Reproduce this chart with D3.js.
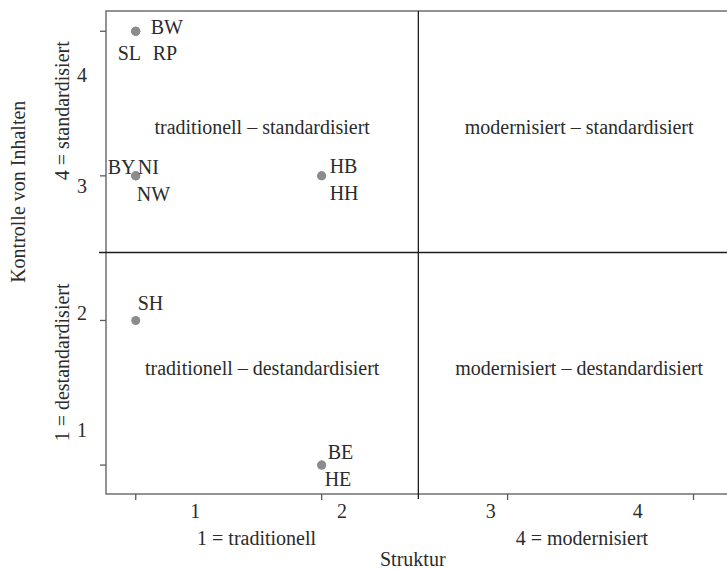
<!doctype html>
<html>
<head>
<meta charset="utf-8">
<title>Struktur / Kontrolle von Inhalten</title>
<script src="https://d3js.org/d3.v7.min.js"></script>
<style>
    body { margin: 0; background: #fff; }
    svg text { font-family: "Liberation Serif", "DejaVu Serif", serif; fill: #2b2b2b; }
</style>
</head>
<body>
<div id="chart"></div>
<script>
// data
var states    = ["BW", "SL", "RP", "BY", "NI", "NW", "HB", "HH", "SH", "BE", "HE"];
var struktur  = [1, 1, 1, 1, 1, 1, 2, 2, 1, 2, 2];
var kontrolle = [4, 4, 4, 3, 3, 3, 3, 3, 2, 1, 1];

var xDomain = [0.84, 4.25];
var yDomain = [0.80, 4.14];
var xTicks = [1, 2, 3, 4];
var yTicks = [1, 2, 3, 4];
var xDivider = 2.52;
var yDivider = 2.47;

// tick labels sit off the tick marks in the original
var xTickLabels = ["1", "2", "3", "4"];
var xTickLabelAt = [1.32, 2.11, 2.91, 3.70];
var yTickLabels = ["1", "2", "3", "4"];
var yTickLabelAt = [1.24, 2.05, 2.93, 3.70];

var xEndLabels = ["1 = traditionell", "4 = modernisiert"];
var xEndLabelAt = [1.65, 3.40];
var yEndLabels = ["1 = destandardisiert", "4 = standardisiert"];
var yEndLabelAt = [1.71, 3.45];

var quadrantLabels = [
    "traditionell \u2013 standardisiert", "modernisiert \u2013 standardisiert",
    "traditionell \u2013 destandardisiert", "modernisiert \u2013 destandardisiert"
];

// label placement around each point (pixels)
var labelOffset = {
    BW: [15, -4], SL: [-18, 22], RP: [17, 22],
    BY: [-28, -9], NI: [2, -9], NW: [1, 18],
    HB: [8, -10], HH: [8, 17],
    SH: [2, -17],
    BE: [6, -13], HE: [3, 14]
};

var width = 727, height = 569;
var plotLeft = 106, plotRight = 740, plotTop = 11, plotBottom = 494;
var fs = 20;

var svg = d3.select("#chart").append("svg")
    .attr("width", width).attr("height", height);

var x = d3.scaleLinear().domain(xDomain).range([plotLeft, plotRight]);
var y = d3.scaleLinear().domain(yDomain).range([plotBottom, plotTop]);

var frame = "#5a5a5a";

// frame
svg.append("rect")
    .attr("x", plotLeft).attr("y", plotTop)
    .attr("width", plotRight - plotLeft).attr("height", plotBottom - plotTop)
    .style("fill", "none").style("stroke", frame).style("stroke-width", 1.3);

// ticks
svg.selectAll(".xtick").data(xTicks).enter().append("line")
    .attr("x1", function (d) { return x(d); }).attr("x2", function (d) { return x(d); })
    .attr("y1", plotBottom).attr("y2", plotBottom + 6)
    .style("stroke", frame).style("stroke-width", 1.3);
svg.selectAll(".ytick").data(yTicks).enter().append("line")
    .attr("y1", function (d) { return y(d); }).attr("y2", function (d) { return y(d); })
    .attr("x1", plotLeft).attr("x2", plotLeft - 6)
    .style("stroke", frame).style("stroke-width", 1.3);

// quadrant dividers
svg.append("line")
    .attr("x1", x(xDivider)).attr("x2", x(xDivider))
    .attr("y1", plotTop).attr("y2", plotBottom + 5)
    .style("stroke", "#1e1e1e").style("stroke-width", 1.3);
svg.append("line")
    .attr("x1", plotLeft - 7).attr("x2", plotRight)
    .attr("y1", y(yDivider)).attr("y2", y(yDivider))
    .style("stroke", "#1e1e1e").style("stroke-width", 1.3);

// tick labels
svg.selectAll(".xlab").data(xTickLabels).enter().append("text")
    .attr("x", function (d, i) { return x(xTickLabelAt[i]); })
    .attr("y", 518)
    .attr("text-anchor", "middle").style("font-size", fs + "px")
    .text(function (d) { return d; });
svg.selectAll(".ylab").data(yTickLabels).enter().append("text")
    .attr("x", 82)
    .attr("y", function (d, i) { return y(yTickLabelAt[i]); })
    .attr("dominant-baseline", "central")
    .attr("text-anchor", "middle").style("font-size", fs + "px")
    .text(function (d) { return d; });

// end labels
svg.selectAll(".xend").data(xEndLabels).enter().append("text")
    .attr("x", function (d, i) { return x(xEndLabelAt[i]); })
    .attr("y", 545)
    .attr("text-anchor", "middle").style("font-size", fs + "px")
    .text(function (d) { return d; });
svg.selectAll(".yend").data(yEndLabels).enter().append("text")
    .attr("transform", function (d, i) { return "translate(62," + y(yEndLabelAt[i]) + ") rotate(-90)"; })
    .attr("text-anchor", "middle").attr("dominant-baseline", "central")
    .style("font-size", fs + "px")
    .text(function (d) { return d; });

// axis titles
svg.append("text")
    .attr("x", x(2.49)).attr("y", 566)
    .attr("text-anchor", "middle").style("font-size", fs + "px")
    .text("Struktur");
svg.append("text")
    .attr("transform", "translate(18," + y(2.89) + ") rotate(-90)")
    .attr("text-anchor", "middle").attr("dominant-baseline", "central")
    .style("font-size", fs + "px")
    .text("Kontrolle von Inhalten");

// quadrant labels
var qx = [(xDomain[0] + xDivider) / 2, (xDivider + xDomain[1]) / 2];
var qy = [(yDivider + yDomain[1]) / 2, (yDomain[0] + yDivider) / 2];
svg.selectAll(".quad").data(quadrantLabels).enter().append("text")
    .attr("x", function (d, i) { return x(qx[i % 2]); })
    .attr("y", function (d, i) { return y(qy[Math.floor(i / 2)]) - 5; })
    .attr("text-anchor", "middle").attr("dominant-baseline", "central")
    .style("font-size", fs + "px")
    .text(function (d) { return d; });

// points
svg.selectAll(".pt").data(states).enter().append("circle")
    .attr("cx", function (d, i) { return x(struktur[i]); })
    .attr("cy", function (d, i) { return y(kontrolle[i]); })
    .attr("r", 4.5)
    .style("fill", "#8c8c8c");

svg.selectAll(".ptlab").data(states).enter().append("text")
    .attr("x", function (d, i) { return x(struktur[i]) + labelOffset[d][0]; })
    .attr("y", function (d, i) { return y(kontrolle[i]) + labelOffset[d][1]; })
    .attr("dominant-baseline", "central")
    .style("font-size", fs + "px")
    .text(function (d) { return d; });
</script>
</body>
</html>
